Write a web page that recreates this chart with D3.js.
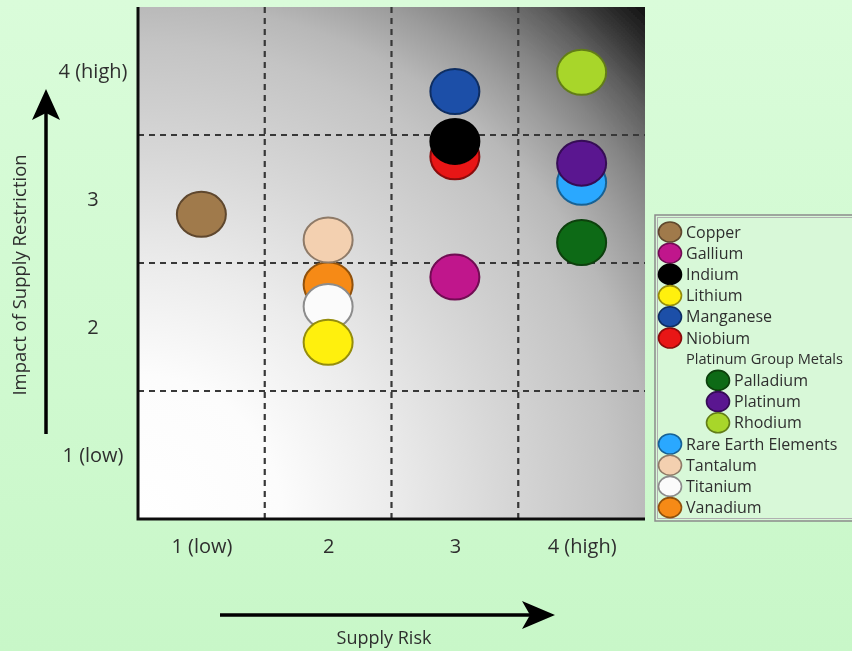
<!DOCTYPE html>
<html>
<head>
<meta charset="utf-8">
<script src="https://cdn.jsdelivr.net/npm/d3@7"></script>
<style>
	body { margin: 0; overflow: hidden; }
	text { font-family: "Open Sans", sans-serif; fill: #2f2f2f; }
</style>
</head>
<body>
<svg id="chart" width="852" height="651"></svg>
<script>
// materials, in legend order
const materials = ["Copper", "Gallium", "Indium", "Lithium", "Manganese", "Niobium", "Palladium", "Platinum", "Rhodium", "Rare Earth Elements", "Tantalum", "Titanium", "Vanadium"];
const supplyRisk = [1, 3, 3, 2, 3, 3, 4, 4, 4, 4, 2, 2, 2];
const impact = [2.88, 2.39, 3.45, 1.88, 3.84, 3.33, 2.66, 3.28, 3.99, 3.13, 2.68, 2.16, 2.33];
const fills = ["#a07a4c", "#c0168c", "#050505", "#fff00e", "#1b4fa8", "#e81212", "#0e6b14", "#5a1590", "#a8d62a", "#2aa8ff", "#f3d0b0", "#fbfbfb", "#f68a12"];

const groupLabel = "Platinum Group Metals";
const groupMembers = ["Palladium", "Platinum", "Rhodium"];

const tickValues = [1, 2, 3, 4];
const xTickLabels = ["1 (low)", "2", "3", "4 (high)"];
const yTickLabels = ["1 (low)", "2", "3", "4 (high)"];
const gridValues = [1.5, 2.5, 3.5];

const xTitle = "Supply Risk";
const yTitle = "Impact of Supply Restriction";

const data = materials.map((m, i) => ({ name: m, risk: supplyRisk[i], impact: impact[i], fill: fills[i] }));

const svg = d3.select("#chart");
const W = 852, H = 651;
const plot = { left: 138, right: 645, top: 7, bottom: 519 };

const x = d3.scaleLinear().domain([0.5, 4.5]).range([plot.left, plot.right]);
const y = d3.scaleLinear().domain([0.5, 4.5]).range([plot.bottom, plot.top]);

const defs = svg.append("defs");

const pageGrad = defs.append("linearGradient").attr("id", "page-bg").attr("x1", 0).attr("y1", 0).attr("x2", 0).attr("y2", 1);
pageGrad.append("stop").attr("offset", 0).attr("stop-color", "#dafcda");
pageGrad.append("stop").attr("offset", 1).attr("stop-color", "#c8f7c8");

// plot background: white at bottom-left, black at top-right
const plotGrad = defs.append("radialGradient")
	.attr("id", "plot-bg")
	.attr("gradientUnits", "userSpaceOnUse")
	.attr("cx", plot.left).attr("cy", plot.bottom)
	.attr("fx", plot.left).attr("fy", plot.bottom)
	.attr("r", Math.hypot(plot.right - plot.left, plot.bottom - plot.top));
[[0, "#ffffff"], [0.2, "#fcfcfc"], [0.35, "#ececec"], [0.5, "#d8d8d8"], [0.66, "#c4c4c4"], [0.72, "#b8b8b8"],
 [0.79, "#9c9c9c"], [0.84, "#848484"], [0.9, "#5f5f5f"], [0.95, "#363636"], [1, "#121212"]]
	.forEach(([o, c]) => plotGrad.append("stop").attr("offset", o).attr("stop-color", c));

defs.append("filter").attr("id", "soft").append("feGaussianBlur").attr("stdDeviation", 0.45);

const root = svg.append("g").attr("filter", "url(#soft)");

root.append("rect").attr("width", W).attr("height", H).attr("fill", "url(#page-bg)");

root.append("rect")
	.attr("x", plot.left).attr("y", plot.top)
	.attr("width", plot.right - plot.left).attr("height", plot.bottom - plot.top)
	.attr("fill", "url(#plot-bg)");

// dashed grid
const grid = root.append("g").attr("stroke", "#383838").attr("stroke-width", 2.2).attr("stroke-dasharray", "6,5");
grid.selectAll(".vgrid").data(gridValues).join("line")
	.attr("class", "vgrid")
	.attr("x1", (d) => x(d)).attr("x2", (d) => x(d))
	.attr("y1", plot.top).attr("y2", plot.bottom);
grid.selectAll(".hgrid").data(gridValues).join("line")
	.attr("class", "hgrid")
	.attr("y1", (d) => y(d)).attr("y2", (d) => y(d))
	.attr("x1", plot.left).attr("x2", plot.right);

// axis frame (left + bottom)
root.append("path")
	.attr("d", `M${plot.left},${plot.top} V${plot.bottom} H${plot.right}`)
	.attr("fill", "none").attr("stroke", "#111").attr("stroke-width", 3);

// tick labels
const xAxis = root.append("g")
	.attr("transform", `translate(0,${plot.bottom})`)
	.call(d3.axisBottom(x).tickValues(tickValues).tickSize(0).tickPadding(20).tickFormat((d, i) => xTickLabels[i]));
const yAxis = root.append("g")
	.attr("transform", `translate(${plot.left},0)`)
	.call(d3.axisLeft(y).tickValues(tickValues).tickSize(0).tickFormat((d, i) => yTickLabels[i]));
[xAxis, yAxis].forEach((a) => {
	a.select(".domain").remove();
	a.selectAll("text").attr("font-size", 20).attr("font-family", null).attr("fill", "#2f2f2f");
});
yAxis.selectAll("text").attr("text-anchor", "middle").attr("x", -45);

// points, drawn last-to-first so earlier names sit on top
const stroke = (c) => (d3.color(c).formatHex() === "#fbfbfb" ? "#8c8c8c" : d3.color(c).darker(1.5));
root.append("g")
	.selectAll(".point")
	.data(data.slice().reverse(), (d) => d.name)
	.join("ellipse")
	.attr("class", "point")
	.attr("cx", (d) => x(d.risk))
	.attr("cy", (d) => y(d.impact))
	.attr("rx", 24.5)
	.attr("ry", 22.5)
	.attr("fill", (d) => d.fill)
	.attr("stroke", (d) => stroke(d.fill))
	.attr("stroke-width", 2);

// axis arrows
const arrows = root.append("g").attr("fill", "#000").attr("stroke", "#000");
arrows.append("line").attr("x1", 46).attr("x2", 46).attr("y1", 434).attr("y2", 112).attr("stroke-width", 3.5);
arrows.append("path").attr("d", "M46,89 L60,120 L46,113 L32,120 Z").attr("stroke", "none");
arrows.append("line").attr("x1", 220).attr("x2", 530).attr("y1", 615).attr("y2", 615).attr("stroke-width", 3.5);
arrows.append("path").attr("d", "M555,615 L522,601 L530,615 L522,629 Z").attr("stroke", "none");

// axis titles
root.append("text")
	.attr("transform", `translate(26,${(y(1) + y(4)) / 2 + 12}) rotate(-90)`)
	.attr("text-anchor", "middle")
	.attr("font-size", 18.5)
	.text(yTitle);
root.append("text")
	.attr("x", 384).attr("y", 644)
	.attr("text-anchor", "middle")
	.attr("font-size", 18)
	.text(xTitle);

// legend
const legendRows = [];
data.forEach((d) => {
	if (d.name === groupMembers[0]) legendRows.push({ name: groupLabel, header: true });
	legendRows.push({ ...d, indent: groupMembers.includes(d.name) });
});

const legend = root.append("g").attr("transform", "translate(655,215)");
legend.append("rect").attr("width", 230).attr("height", 306).attr("fill", "#d8f8d8").attr("stroke", "#8a8a8a").attr("stroke-width", 1.5);
legend.append("rect").attr("x", 2.5).attr("y", 2.5).attr("width", 230).attr("height", 301).attr("fill", "none").attr("stroke", "#b0b0b0").attr("stroke-width", 1);

const row = legend.selectAll(".row")
	.data(legendRows)
	.join("g")
	.attr("class", "row")
	.attr("transform", (d, i) => `translate(0,${17 + i * 21.2})`);

row.filter((d) => !d.header)
	.append("ellipse")
	.attr("cx", (d) => (d.indent ? 63 : 15))
	.attr("rx", 11.5)
	.attr("ry", 10)
	.attr("fill", (d) => d.fill)
	.attr("stroke", (d) => stroke(d.fill))
	.attr("stroke-width", 1.6);

// the group header is a touch smaller so it ends inside the page
row.append("text")
	.attr("x", (d) => (d.indent ? 79 : 31))
	.attr("dy", "0.35em")
	.attr("font-size", (d) => (d.header ? 14.6 : 16))
	.text((d) => d.name);
</script>
</body>
</html>
